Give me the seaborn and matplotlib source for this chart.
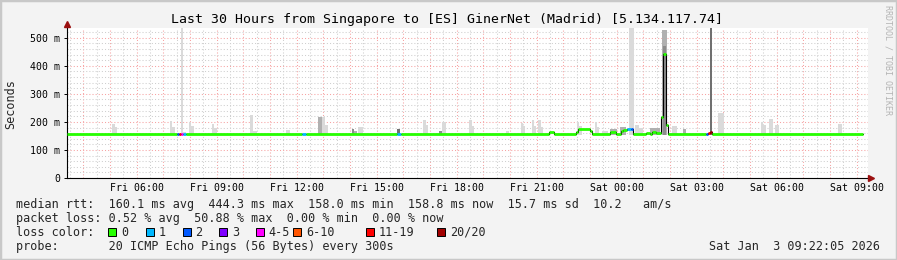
import numpy as np
import pandas as pd
import matplotlib
matplotlib.use("Agg")
import matplotlib.pyplot as plt
import seaborn as sns
from matplotlib.patches import Rectangle
from matplotlib.ticker import MultipleLocator, FixedLocator, FixedFormatter

sns.set_theme(style="white")
plt.rcParams['font.family'] = ['DejaVu Sans Mono', 'DejaVu Sans']

# ---------------- data ----------------
title = "Last 30 Hours from Singapore to [ES] GinerNet (Madrid) [5.134.117.74]"

# time axis in hours since Fri 00:00
x_tick_hours = [6, 9, 12, 15, 18, 21, 24, 27, 30, 33]
x_tick_labels = ["Fri 06:00", "Fri 09:00", "Fri 12:00", "Fri 15:00", "Fri 18:00",
                 "Fri 21:00", "Sat 00:00", "Sat 03:00", "Sat 06:00", "Sat 09:00"]
y_tick_values = [0, 100, 200, 300, 400, 500]          # ms
y_tick_labels = ["0", "100 m", "200 m", "300 m", "400 m", "500 m"]

# median rtt (ms) as a step series: start time of each step, value, loss class
med_t = [3.39, 7.50, 7.59, 7.67, 7.75, 7.85, 12.19, 12.35, 15.75, 15.90,
         21.46, 21.65, 22.47, 22.55, 23.00, 23.07, 23.75, 23.97,
         24.16, 24.25, 24.38, 24.55, 24.62, 25.11, 25.25, 25.33, 25.48,
         25.66, 25.73, 25.84, 25.91, 27.35, 27.43, 27.50, 27.58, 33.22]
med_v = [158, 158, 158, 158, 158, 158, 158, 158, 158, 158,
         163, 158, 165, 173, 167, 158, 163, 158,
         166, 170, 176, 174, 158, 162, 158, 164, 161,
         218, 443, 188, 158, 158, 160, 163, 158, 158]
med_loss = ['0', '2', '11-19', '4-5', '1', '0', '1', '0', '1', '0',
            '0', '0', '0', '0', '0', '0', '0', '0',
            '0', '0', '1', '2', '0', '0', '0', '0', '0',
            '0', '0', '0', '0', '2', '11-19', '20/20', '0', '0']

# smoke (ping spread): start hour, end hour, top (ms), density level
smoke_start = [5.06, 5.17, 7.25, 7.32, 7.66, 7.75, 7.97, 8.05, 8.81, 8.90,
               10.25, 10.36, 11.60, 12.81, 12.94, 13.05, 14.06, 14.15, 14.31,
               15.75, 16.75, 16.85, 17.35, 17.44, 18.47, 18.56, 19.85,
               20.40, 20.48, 20.81, 20.90, 21.06, 21.15, 22.50, 22.58,
               23.18, 23.27, 23.44, 23.75, 24.12, 24.46, 24.68, 24.85,
               25.25, 25.70, 25.72, 26.06, 26.47, 27.50, 27.81,
               29.40, 29.49, 29.72, 29.93, 32.31]
smoke_end = [5.17, 5.25, 7.32, 7.44, 7.74, 7.85, 8.05, 8.15, 8.90, 9.00,
             10.36, 10.50, 11.75, 12.94, 13.05, 13.16, 14.15, 14.25, 14.47,
             15.87, 16.85, 16.93, 17.44, 17.59, 18.56, 18.65, 19.97,
             20.48, 20.56, 20.90, 20.97, 21.15, 21.22, 22.58, 22.69,
             23.27, 23.35, 23.68, 24.01, 24.35, 24.65, 24.85, 24.98,
             25.62, 25.88, 25.84, 26.25, 26.60, 27.57, 28.02,
             29.49, 29.60, 29.85, 30.09, 32.43]
smoke_top = [192, 182, 203, 182, 535, 163, 200, 185, 194, 180,
             224, 168, 170, 218, 218, 188, 173, 168, 183,
             173, 206, 188, 168, 200, 206, 184, 167,
             197, 185, 206, 185, 206, 182, 200, 185,
             200, 182, 168, 175, 182, 535, 188, 178,
             180, 527, 470, 185, 174, 535, 232,
             200, 188, 209, 188, 192]
smoke_level = [0, 0, 0, 0, 0, 0, 0, 0, 0, 0,
               0, 0, 0, 1, 0, 0, 2, 1, 0,
               3, 0, 0, 2, 0, 0, 0, 0,
               0, 0, 0, 0, 0, 0, 0, 0,
               0, 0, 0, 1, 1, 0, 0, 0,
               1, 1, 2, 0, 1, 3, 0,
               0, 0, 0, 0, 0]

loss_names = ['0', '1', '2', '3', '4-5', '6-10', '11-19', '20/20']
loss_colors = ['#26ff00', '#00b8ff', '#0059ff', '#7e00ff', '#ff00ff',
               '#ff5500', '#ff0000', '#a10000']

legend_rows = [
    "median rtt:  160.1 ms avg  444.3 ms max  158.0 ms min  158.8 ms now  15.7 ms sd  10.2   am/s",
    "packet loss: 0.52 % avg  50.88 % max  0.00 % min  0.00 % now",
    "loss color:",
    "probe:       20 ICMP Echo Pings (56 Bytes) every 300s",
]
timestamp = "Sat Jan  3 09:22:05 2026"
watermark = "RRDTOOL / TOBI OETIKER"

# ---------------- style ----------------
W, H = 897, 260
def fx(px): return px / W
def fy(py): return 1 - py / H

BG = '#f3f3f3'
SHADES = ['#dadada', '#b0b0b0', '#8c8c8c', '#707070']
PINK = '#f7a3a3'
GREY = '#cfcfcf'
ARROW = '#9b1010'
color_of = dict(zip(loss_names, loss_colors))

fig = plt.figure(figsize=(W / 100, H / 100), dpi=100, facecolor=BG)
ax_l, ax_r, ax_t, ax_b = 67, 868, 28, 178
ax = fig.add_axes([fx(ax_l), fy(ax_b), (ax_r - ax_l) / W, (ax_b - ax_t) / H])
ax.set_facecolor('white')

x0, x1 = 3.385, 3.385 + (ax_r - ax_l) / 26.67
ax.set_xlim(x0, x1)
ax.set_ylim(0, 535)

# grid
hours = [h for h in range(4, 34)]
ax.xaxis.set_major_locator(FixedLocator(hours))
ax.xaxis.set_major_formatter(FixedFormatter(
    [x_tick_labels[x_tick_hours.index(h)] if h in x_tick_hours else "" for h in hours]))
ax.xaxis.set_minor_locator(MultipleLocator(0.5))
ax.yaxis.set_major_locator(FixedLocator(y_tick_values))
ax.yaxis.set_major_formatter(FixedFormatter(y_tick_labels))
ax.yaxis.set_minor_locator(MultipleLocator(20))
dot = (0, (1, 2))
ax.grid(which='minor', color=GREY, lw=0.75, ls=dot)
ax.grid(which='major', color=PINK, lw=0.75, ls=dot)
ax.set_axisbelow(True)

# smoke
smoke = pd.DataFrame({'start': smoke_start, 'end': smoke_end,
                      'top': smoke_top, 'level': smoke_level})
floor = 155
ax.bar(smoke['start'], smoke['top'] - floor, width=smoke['end'] - smoke['start'],
       bottom=floor, align='edge', color=[SHADES[l] for l in smoke['level']],
       linewidth=0, zorder=2)

# median: black step outline, then coloured loss segments
med = pd.DataFrame({'t': med_t, 'v': med_v, 'loss': med_loss})
sns.lineplot(data=med, x='t', y='v', ax=ax, color='black', lw=0.8,
             drawstyle='steps-post', estimator=None, sort=False, zorder=3)
for i in range(len(med) - 1):
    ax.hlines(med['v'][i], med['t'][i], med['t'][i + 1],
              color=color_of[med['loss'][i]], lw=2.0, zorder=4)

ax.set_xlabel("")
ax.set_ylabel("")
for s in ['top', 'right']:
    ax.spines[s].set_visible(False)
for s in ['left', 'bottom']:
    ax.spines[s].set_color('black')
    ax.spines[s].set_linewidth(0.8)
ax.tick_params(axis='x', which='both', length=0, pad=3.5, labelsize=7.1, colors='black')
ax.tick_params(axis='y', which='major', length=2.2, width=0.7, pad=2.6,
               labelsize=7.1, colors='black', left=True)
ax.tick_params(axis='y', which='minor', length=0)

# axis arrows
ax.plot([0], [1 + 4 / 150], marker='^', markersize=5, color=ARROW,
        transform=ax.transAxes, clip_on=False, zorder=6)
ax.plot([1 + 3 / 801], [0], marker='>', markersize=5, color=ARROW,
        transform=ax.transAxes, clip_on=False, zorder=6)

# texts
mono = 'DejaVu Sans Mono'
fig.text(fx(447), fy(19), title, ha='center', va='center', fontsize=9.5,
         family=mono, color='black')
fig.text(fx(11), fy(104), "Seconds", rotation=90, ha='center', va='center',
         fontsize=8.5, family=mono)
fig.text(fx(888), fy(60), watermark, rotation=270, ha='center', va='center',
         fontsize=6, family=mono, color='#b4b4b4')
row_y = [204.3, 218.3, 232.3, 246.3]
for txt, py in zip(legend_rows, row_y):
    fig.text(fx(16), fy(py), txt, ha='left', va='center', fontsize=8.5, family=mono)
fig.text(fx(880), fy(246.3), timestamp, ha='right', va='center', fontsize=8.5, family=mono)

box_px = [108.3, 145.7, 182.7, 219.3, 256, 293.3, 365.7, 437.3]
for name, col, bx in zip(loss_names, loss_colors, box_px):
    fig.patches.append(Rectangle((fx(bx), fy(236.3)), 8 / W, 8 / H,
                                 transform=fig.transFigure, facecolor=col,
                                 edgecolor='black', linewidth=0.7))
    fig.text(fx(bx + 12.5), fy(232.3), name, ha='left', va='center',
             fontsize=8.5, family=mono)

# frame
fig.patches.append(Rectangle((0, 0), 1, 1, transform=fig.transFigure,
                             fill=False, edgecolor='#c8c8c8', linewidth=2.5))

fig.savefig('out.png', dpi=100, facecolor=BG)
